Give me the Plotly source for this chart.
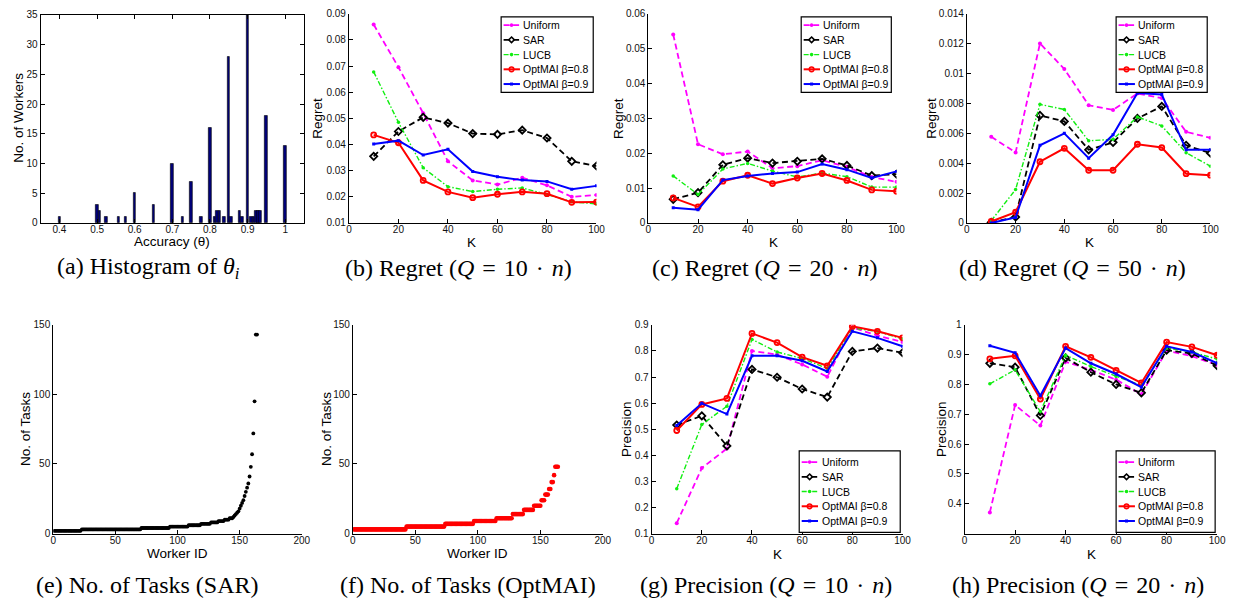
import plotly.graph_objects as go
import numpy as np

W, H = 1239, 609

# ---------------- data ----------------
K = [10, 20, 30, 40, 50, 60, 70, 80, 90, 100]
series_names = ["Uniform", "SAR", "LUCB", "OptMAI β=0.8", "OptMAI β=0.9"]

# (a) histogram of worker accuracy
hist_acc = [0.400, 0.500, 0.507, 0.524, 0.557, 0.576, 0.600, 0.650, 0.700, 0.727,
            0.750, 0.777, 0.800, 0.812, 0.819, 0.826, 0.837, 0.850, 0.857, 0.879,
            0.886, 0.900, 0.910, 0.916, 0.922, 0.928, 0.934, 0.950, 1.000]
hist_cnt = [1, 3, 2, 1, 1, 1, 5, 3, 10, 1,
            7, 1, 16, 1, 2, 2, 1, 28, 1, 2,
            1, 35, 1, 1, 2, 2, 2, 18, 13]

# (b) Regret, Q = 10n
regret10_uniform = [0.0859, 0.0696, 0.0520, 0.0336, 0.0263, 0.0247, 0.0273, 0.0244, 0.0200, 0.0207]
regret10_sar     = [0.0355, 0.0450, 0.0504, 0.0482, 0.0442, 0.0439, 0.0455, 0.0425, 0.0336, 0.0318]
regret10_lucb    = [0.0678, 0.0485, 0.0311, 0.0239, 0.0220, 0.0229, 0.0234, 0.0209, 0.0181, 0.0173]
regret10_opt08   = [0.0437, 0.0407, 0.0263, 0.0219, 0.0197, 0.0210, 0.0219, 0.0212, 0.0179, 0.0180]
regret10_opt09   = [0.0402, 0.0415, 0.0360, 0.0382, 0.0297, 0.0277, 0.0264, 0.0259, 0.0229, 0.0242]

# (c) Regret, Q = 20n
regret20_uniform = [0.0541, 0.0226, 0.0197, 0.0205, 0.0157, 0.0163, 0.0180, 0.0161, 0.0132, 0.0118]
regret20_sar     = [0.0068, 0.0087, 0.0167, 0.0186, 0.0172, 0.0177, 0.0184, 0.0165, 0.0136, 0.0140]
regret20_lucb    = [0.0135, 0.0082, 0.0155, 0.0171, 0.0149, 0.0132, 0.0143, 0.0133, 0.0103, 0.0103]
regret20_opt08   = [0.0072, 0.0046, 0.0120, 0.0137, 0.0113, 0.0129, 0.0142, 0.0122, 0.0095, 0.0091]
regret20_opt09   = [0.0044, 0.0038, 0.0123, 0.0135, 0.0142, 0.0146, 0.0169, 0.0153, 0.0129, 0.0148]

# (d) Regret, Q = 50n
regret50_uniform = [0.00577, 0.00472, 0.01202, 0.01031, 0.00788, 0.00757, 0.00867, 0.00836, 0.00610, 0.00570]
regret50_sar     = [0.00004, 0.00040, 0.00720, 0.00680, 0.00490, 0.00540, 0.00700, 0.00780, 0.00520, 0.00467]
regret50_lucb    = [0.00015, 0.00224, 0.00794, 0.00760, 0.00550, 0.00560, 0.00710, 0.00650, 0.00470, 0.00380]
regret50_opt08   = [0.00010, 0.00072, 0.00410, 0.00500, 0.00353, 0.00353, 0.00527, 0.00505, 0.00330, 0.00320]
regret50_opt09   = [0.00000, 0.00037, 0.00520, 0.00600, 0.00434, 0.00590, 0.00870, 0.00860, 0.00490, 0.00490]

# (e) No. of tasks per worker (SAR), sorted: levels and run lengths
sar_task_levels = [2, 3, 4, 5, 6, 7, 8, 9, 10, 11, 12, 13, 14, 15, 16, 18, 20, 22, 24, 27,
                   30, 33, 36, 41, 48, 57, 72, 95, 143]
sar_task_runs   = [22, 48, 23, 15, 10, 8, 6, 5, 4, 3, 1, 1, 1, 1, 1, 1, 1, 1, 1, 1,
                   1, 1, 1, 1, 1, 1, 1, 1, 2]

# (f) No. of tasks per worker (OptMAI), sorted: levels and run lengths
opt_task_levels = [3, 5, 7, 9, 11, 14, 17, 20, 24, 28, 32, 37, 42, 48]
opt_task_runs   = [42, 31, 23, 18, 13, 9, 8, 6, 3, 3, 2, 2, 1, 3]

# (g) Precision, Q = 10n
prec10_uniform = [0.140, 0.351, 0.426, 0.800, 0.786, 0.748, 0.701, 0.890, 0.859, 0.834]
prec10_sar     = [0.516, 0.551, 0.436, 0.729, 0.699, 0.654, 0.623, 0.798, 0.811, 0.793]
prec10_lucb    = [0.272, 0.518, 0.588, 0.844, 0.796, 0.771, 0.733, 0.887, 0.875, 0.846]
prec10_opt08   = [0.495, 0.595, 0.618, 0.867, 0.832, 0.776, 0.743, 0.894, 0.875, 0.850]
prec10_opt09   = [0.514, 0.599, 0.558, 0.781, 0.781, 0.762, 0.721, 0.875, 0.850, 0.818]

# (h) Precision, Q = 20n
prec20_uniform = [0.371, 0.731, 0.662, 0.876, 0.849, 0.816, 0.767, 0.913, 0.895, 0.865]
prec20_sar     = [0.871, 0.858, 0.696, 0.889, 0.841, 0.800, 0.772, 0.915, 0.904, 0.863]
prec20_lucb    = [0.802, 0.849, 0.709, 0.898, 0.860, 0.827, 0.796, 0.922, 0.909, 0.885]
prec20_opt08   = [0.886, 0.896, 0.751, 0.928, 0.891, 0.847, 0.805, 0.942, 0.926, 0.898]
prec20_opt09   = [0.930, 0.906, 0.762, 0.922, 0.871, 0.835, 0.791, 0.928, 0.909, 0.871]

EQ = " \u200a=\u200a "
DOT = " \u200a·\u200a "
captions = [
    "(a) Histogram of <i>θ<sub>i</sub></i>",
    f"(b) Regret (<i>Q</i>{EQ}10{DOT}<i>n</i>)",
    f"(c) Regret (<i>Q</i>{EQ}20{DOT}<i>n</i>)",
    f"(d) Regret (<i>Q</i>{EQ}50{DOT}<i>n</i>)",
    "(e) No. of Tasks (SAR)",
    "(f) No. of Tasks (OptMAI)",
    f"(g) Precision (<i>Q</i>{EQ}10{DOT}<i>n</i>)",
    f"(h) Precision (<i>Q</i>{EQ}20{DOT}<i>n</i>)",
]

# ---------------- layout helpers ----------------
SANS = "Liberation Sans, Arial, sans-serif"
SERIF = "Liberation Serif, Times New Roman, serif"

def fx(p):
    return p / W

def fy(p):
    return 1 - p / H

# panel boxes in pixels: x0, x1, ytop, ybottom
boxes = {
    1: (38, 304, 10, 222),
    2: (349.3, 599.3, 9, 222),
    3: (651.7, 902.3, 9, 222),
    4: (973.3, 1219.3, 9, 222),
    5: (50.7, 301.7, 325.7, 538.3),
    6: (353.3, 605.7, 325.7, 538.3),
    7: (655, 908.3, 325.7, 538.3),
    8: (971, 1226, 325.7, 538.3),
}

fig = go.Figure()

def axname(i, a):
    return a if i == 1 else f"{a}{i}"

def ref(i, a):
    return a if i == 1 else f"{a}{i}"

axis_common = dict(
    showline=True, linecolor="black", linewidth=1,
    ticks="inside", ticklen=4, tickwidth=1, tickcolor="black",
    showgrid=False, zeroline=False,
    tickfont=dict(family=SANS, size=10, color="#111"),
)

ranges = {
    1: ([0.35, 1.05], [0, 35], dict(tickvals=[0.4, 0.5, 0.6, 0.7, 0.8, 0.9, 1.0]), dict(tickvals=[0, 5, 10, 15, 20, 25, 30, 35])),
    2: ([0, 100], [0.01, 0.09], dict(tickvals=[0, 20, 40, 60, 80, 100]), dict(tickvals=[0.01, 0.02, 0.03, 0.04, 0.05, 0.06, 0.07, 0.08, 0.09])),
    3: ([0, 100], [0, 0.06], dict(tickvals=[0, 20, 40, 60, 80, 100]), dict(tickvals=[0, 0.01, 0.02, 0.03, 0.04, 0.05, 0.06])),
    4: ([0, 100], [0, 0.014], dict(tickvals=[0, 20, 40, 60, 80, 100]), dict(tickvals=[0, 0.002, 0.004, 0.006, 0.008, 0.01, 0.012, 0.014])),
    5: ([0, 200], [0, 150], dict(tickvals=[0, 50, 100, 150, 200]), dict(tickvals=[0, 50, 100, 150])),
    6: ([0, 200], [0, 150], dict(tickvals=[0, 50, 100, 150, 200]), dict(tickvals=[0, 50, 100, 150])),
    7: ([0, 100], [0.1, 0.9], dict(tickvals=[0, 20, 40, 60, 80, 100]), dict(tickvals=[0.1, 0.2, 0.3, 0.4, 0.5, 0.6, 0.7, 0.8, 0.9])),
    8: ([0, 100], [0.3, 1.0], dict(tickvals=[0, 20, 40, 60, 80, 100]), dict(tickvals=[0.4, 0.5, 0.6, 0.7, 0.8, 0.9, 1.0])),
}

layout_axes = {}
for i, (x0, x1, yt, yb) in boxes.items():
    xr, yr, xt, yt_ = ranges[i]
    mirror = True if i == 1 else False
    layout_axes[axname(i, "xaxis")] = dict(
        axis_common, domain=[fx(x0), fx(x1)], range=xr, anchor=ref(i, "y"),
        mirror=("ticks" if mirror else False), ticklabelstandoff=-3, **xt)
    layout_axes[axname(i, "yaxis")] = dict(
        axis_common, domain=[fy(yb), fy(yt)], range=yr, anchor=ref(i, "x"),
        mirror=("ticks" if mirror else False), **yt_)

# ---------------- (a) histogram ----------------
fig.add_trace(go.Bar(
    x=hist_acc, y=hist_cnt, width=0.007,
    marker=dict(color="#00007a", line=dict(color="black", width=0.6)),
    showlegend=False, xaxis="x", yaxis="y"))

# ---------------- (e), (f) scatter ----------------
sar_tasks = np.repeat(sar_task_levels, sar_task_runs)
opt_tasks = np.repeat(opt_task_levels, opt_task_runs)
fig.add_trace(go.Scatter(
    x=np.arange(1, len(sar_tasks) + 1), y=sar_tasks, mode="markers",
    marker=dict(color="black", size=3.8), showlegend=False, xaxis="x5", yaxis="y5"))
fig.add_trace(go.Scatter(
    x=np.arange(1, len(opt_tasks) + 1), y=opt_tasks, mode="markers",
    marker=dict(color="#ff0000", size=4.6), showlegend=False, xaxis="x6", yaxis="y6"))

# ---------------- line panels ----------------
colors = ["#ff00ff", "black", "#11ee11", "#ff0000", "#0000ff"]
line_styles = [
    dict(color=colors[0], width=1.8, dash="6px,3.5px"),
    dict(color=colors[1], width=1.8, dash="6px,3.5px"),
    dict(color=colors[2], width=1.4, dash="5px,2px,1.5px,2px"),
    dict(color=colors[3], width=2),
    dict(color=colors[4], width=2),
]
marker_styles = [
    dict(symbol="circle", size=4, color=colors[0]),
    dict(symbol="diamond-open", size=5.5, color=colors[1], line=dict(width=1.8)),
    dict(symbol="circle", size=3.5, color=colors[2]),
    dict(symbol="circle-open", size=5, color=colors[3], line=dict(width=1.8)),
    dict(symbol="square", size=3, color=colors[4]),
]

panels = [
    (2, [regret10_uniform, regret10_sar, regret10_lucb, regret10_opt08, regret10_opt09]),
    (3, [regret20_uniform, regret20_sar, regret20_lucb, regret20_opt08, regret20_opt09]),
    (4, [regret50_uniform, regret50_sar, regret50_lucb, regret50_opt08, regret50_opt09]),
    (7, [prec10_uniform, prec10_sar, prec10_lucb, prec10_opt08, prec10_opt09]),
    (8, [prec20_uniform, prec20_sar, prec20_lucb, prec20_opt08, prec20_opt09]),
]

for idx, data in panels:
    for name, vals, ls, ms in zip(series_names, data, line_styles, marker_styles):
        fig.add_trace(go.Scatter(
            x=K, y=vals, mode="lines+markers", name=name,
            line=ls, marker=ms, showlegend=False,
            xaxis=ref(idx, "x"), yaxis=ref(idx, "y")))

# ---------------- annotations & legend boxes ----------------
annotations = []
shapes = []

def add_text(text, px, py, size, family=SANS, angle=0, xanchor="center"):
    annotations.append(dict(
        text=text, x=fx(px), y=fy(py), xref="paper", yref="paper",
        xanchor=xanchor, yanchor="middle", showarrow=False, textangle=angle,
        font=dict(family=family, size=size, color="black")))

def legend_marker(k, cx, cy):
    base = dict(xref="paper", yref="paper", xsizemode="pixel", ysizemode="pixel",
                xanchor=fx(cx), yanchor=fy(cy), layer="above")
    c = colors[k]
    if k in (0, 2):
        shapes.append(dict(base, type="circle", x0=-1.8, x1=1.8, y0=-1.8, y1=1.8,
                           fillcolor=c, line=dict(color=c, width=0)))
    elif k == 1:
        shapes.append(dict(base, type="path", path="M0,2.8 L2.8,0 L0,-2.8 L-2.8,0 Z",
                           fillcolor="rgba(0,0,0,0)", line=dict(color=c, width=1.6)))
    elif k == 3:
        shapes.append(dict(base, type="circle", x0=-2.3, x1=2.3, y0=-2.3, y1=2.3,
                           fillcolor="rgba(0,0,0,0)", line=dict(color=c, width=1.6)))
    else:
        shapes.append(dict(base, type="rect", x0=-1.5, x1=1.5, y0=-1.5, y1=1.5,
                           fillcolor=c, line=dict(color=c, width=0)))

def add_legend(x0, x1, y0, y1):
    shapes.append(dict(type="rect", xref="paper", yref="paper",
                       x0=fx(x0), x1=fx(x1), y0=fy(y1), y1=fy(y0),
                       fillcolor="white", line=dict(color="black", width=1.2),
                       layer="above"))
    cyc = (y0 + y1) / 2
    for k, name in enumerate(series_names):
        cy = cyc + 15 * (k - 2)
        shapes.append(dict(type="line", xref="paper", yref="paper",
                           x0=fx(x0 + 2.5), x1=fx(x0 + 19), y0=fy(cy), y1=fy(cy),
                           line=line_styles[k], layer="above"))
        legend_marker(k, x0 + 10.5, cy)
        add_text(name, x0 + 20.5, cy, 10.5, xanchor="left")

add_legend(503, 596, 12, 89)
add_legend(806, 897, 12, 89)
add_legend(1124, 1216, 12, 89)
add_legend(804, 906, 454, 537)
add_legend(1124, 1224, 454, 537)

TS = 13.5
# axis titles
add_text("No. of Workers", 16, 115, TS, angle=-90)
add_text("Accuracy (θ)", 171, 241, TS)
add_text("Regret", 318, 115, TS, angle=-90)
add_text("K", 473, 242, TS)
add_text("Regret", 622, 115, TS, angle=-90)
add_text("K", 778, 242, TS)
add_text("Regret", 938, 115, TS, angle=-90)
add_text("K", 1097, 242, TS)
add_text("No. of Tasks", 22, 432, TS, angle=-90)
add_text("Worker ID", 176, 559, TS)
add_text("No. of Tasks", 326, 432, TS, angle=-90)
add_text("Worker ID", 479, 559, TS)
add_text("Precision", 629, 432, TS, angle=-90)
add_text("K", 782, 560, TS)
add_text("Precision", 947, 432, TS, angle=-90)
add_text("K", 1099, 560, TS)

# captions
cap_pos = [(147, 268), (460, 268), (769, 268), (1080, 268),
           (146, 591), (470, 591), (770, 591), (1086, 591)]
for cap, (px, py) in zip(captions, cap_pos):
    add_text(cap, px, py, 24, family=SERIF)

fig.update_layout(
    width=W, height=H, autosize=False,
    margin=dict(l=0, r=0, t=0, b=0, pad=0),
    paper_bgcolor="white", plot_bgcolor="white",
    bargap=0, barmode="overlay", showlegend=False,
    annotations=annotations, shapes=shapes,
    **layout_axes,
)

fig.write_html("out.html", config={"displayModeBar": False},
               post_script="document.body.style.margin='0px';")
